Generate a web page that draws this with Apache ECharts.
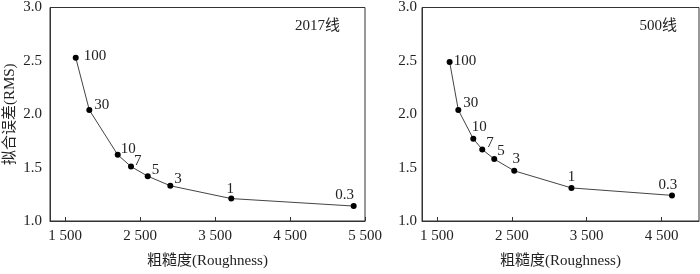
<!DOCTYPE html>
<html>
<head>
<meta charset="utf-8">
<script src="https://cdn.jsdelivr.net/npm/echarts@6/dist/echarts.min.js"></script>
<style>html,body{margin:0;padding:0;background:#fff}#c{width:700px;height:274px}</style>
</head>
<body>
<div id="c"></div>
<script>
// ---- data ----
const pointLabels = ["100", "30", "10", "7", "5", "3", "1", "0.3"];
const roughness2017 = [1643, 1824, 2203, 2380, 2603, 2904, 3717, 5349];
const rms2017 = [2.53, 2.04, 1.62, 1.51, 1.42, 1.33, 1.21, 1.14];
const roughness500 = [1669, 1785, 1985, 2105, 2265, 2532, 3296, 4639];
const rms500 = [2.49, 2.04, 1.77, 1.67, 1.58, 1.47, 1.31, 1.24];
const xTicksLeft = [1500, 2500, 3500, 4500, 5500];
const xTicksRight = [1500, 2500, 3500, 4500];
const yTicks = [1.0, 1.5, 2.0, 2.5, 3.0];
const panelTitles = ["2017线", "500线"];
const xName = "粗糙度(Roughness)";
const yName = "拟合误差(RMS)";

// ---- label styling (not data) ----
const labStyleLeft = [
  ['right', [0, -2]], ['right', [-3, -5]], ['right', [-5, -6]], ['right', [-5, -5]],
  ['right', [-4, -6]], ['right', [-4, -7]], ['top', [-1, 6]], ['top', [-9, 5]]
];
const labStyleRight = [
  ['right', [-4, -1]], ['right', [-3, -7]], ['top', [6, 4]], ['right', [-4, -6]],
  ['right', [-5, -8]], ['top', [2, 4]], ['top', [0, 5]], ['top', [-4, 5]]
];

const FONT = "'Liberation Serif', 'Times New Roman', 'Noto Sans CJK SC', serif";
const fmt = v => String(Math.round(v)).replace(/\B(?=(\d{3})+(?!\d))/g, ' ');

function buildData(xs, ys, styles) {
  return xs.map((x, i) => ({
    value: [x, ys[i]],
    name: pointLabels[i],
    label: { position: styles[i][0], offset: styles[i][1] }
  }));
}

function xAxis(idx, min, max, ticks) {
  return {
    type: 'value', gridIndex: idx, min: min, max: max,
    name: xName, nameLocation: 'middle', nameGap: 33,
    nameTextStyle: { fontFamily: FONT, fontSize: 15, color: '#222' },
    axisLine: { show: true, lineStyle: { color: '#333', width: 1 } },
    axisTick: { show: true, inside: true, length: 4, customValues: ticks, lineStyle: { color: '#333' } },
    axisLabel: { customValues: ticks, formatter: fmt, margin: 8, fontFamily: FONT, fontSize: 15, color: '#222' },
    splitLine: { show: false }
  };
}
function yAxis(idx, showName, margin) {
  return {
    type: 'value', gridIndex: idx, min: 1, max: 3, interval: 0.5,
    name: showName ? yName : '', nameLocation: 'middle', nameGap: 32,
    nameTextStyle: { fontFamily: FONT, fontSize: 15, color: '#222' },
    axisLine: { show: true, lineStyle: { color: '#333', width: 1 } },
    axisTick: { show: false },
    axisLabel: { formatter: v => v.toFixed(1), margin: margin, fontFamily: FONT, fontSize: 15, color: '#222' },
    splitLine: { show: false }
  };
}
function series(idx, xs, ys, styles) {
  return {
    type: 'line', xAxisIndex: idx, yAxisIndex: idx,
    data: buildData(xs, ys, styles),
    symbol: 'circle', symbolSize: 6,
    itemStyle: { color: '#000' },
    lineStyle: { color: '#444', width: 1 },
    label: { show: true, formatter: p => p.name, fontFamily: FONT, fontSize: 15, color: '#222' },
    animation: false
  };
}

const chart = echarts.init(document.getElementById('c'), null, { renderer: 'canvas' });
chart.setOption({
  backgroundColor: '#fff',
  animation: false,
  title: [
    { text: panelTitles[0], right: 355, top: 14, textStyle: { fontFamily: FONT, fontSize: 15, fontWeight: 'normal', color: '#222' } },
    { text: panelTitles[1], right: 18, top: 14, textStyle: { fontFamily: FONT, fontSize: 15, fontWeight: 'normal', color: '#222' } }
  ],
  grid: [
    { left: 50, top: 5, width: 315, height: 221, show: true, borderColor: '#333', borderWidth: 1, backgroundColor: 'transparent' },
    { left: 422, top: 5, width: 277, height: 221, show: true, borderColor: '#333', borderWidth: 1, backgroundColor: 'transparent' }
  ],
  xAxis: [xAxis(0, 1300, 5500, xTicksLeft), xAxis(1, 1300, 5000, xTicksRight)],
  yAxis: [yAxis(0, true, 8), yAxis(1, false, 5)],
  series: [
    series(0, roughness2017, rms2017, labStyleLeft),
    series(1, roughness500, rms500, labStyleRight)
  ]
});
</script>
</body>
</html>
